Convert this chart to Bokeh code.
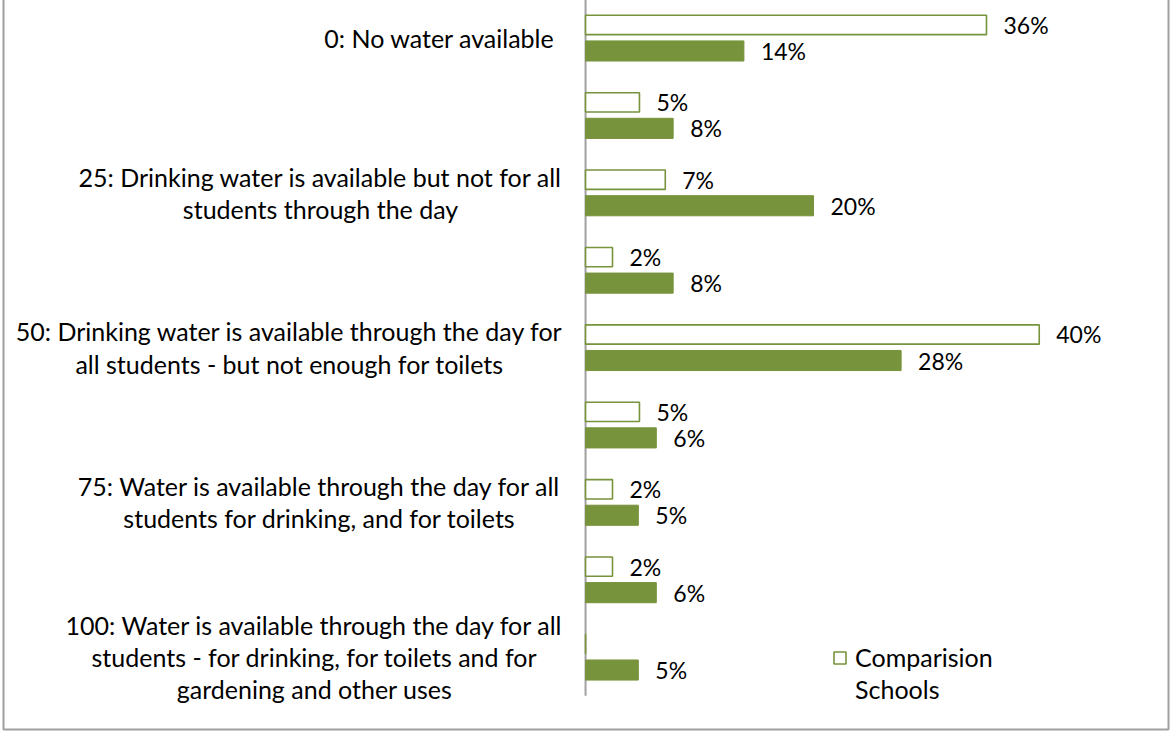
from bokeh.plotting import figure
from bokeh.models import ColumnDataSource, Range1d, FactorRange, Legend, LegendItem
from bokeh.transform import dodge
from bokeh.core.properties import value
from bokeh.embed import file_html
from bokeh.resources import INLINE

# ---- data ----
categories = ["0", "12.5", "25", "37.5", "50", "62.5", "75", "87.5", "100"]
category_labels = [
    "0: No water available",
    "",
    "25: Drinking water is available but not for all\nstudents through the day",
    "",
    "50: Drinking water is available through the day for\nall students - but not enough for toilets",
    "",
    "75: Water is available through the day for all\nstudents for drinking, and for toilets",
    "",
    "100: Water is available through the day for all\nstudents - for drinking, for toilets and for\ngardening and other uses",
]
comparison_schools = [35.7, 4.8, 7.1, 2.4, 40.4, 4.8, 2.4, 2.4, 0.0]
project_schools = [14.1, 7.8, 20.3, 7.8, 28.1, 6.3, 4.7, 6.3, 4.7]
legend_lines = ["Comparision", "Schools"]

# ---- styling ----
GREEN = "#77933c"
GREY = "#a0a0a0"
FONT_NAME = "Lato"
FONT = value(FONT_NAME)
FS = "25px"
FS_VAL = "23px"
label_center_offsets = [-146, 0, -265, 0, -296, 0, -266, 0, -271]

p = figure(
    width=1169, height=768,
    x_range=Range1d(-51.83, 51.91),
    y_range=FactorRange(factors=list(reversed(categories)),
                        range_padding=0.4365, range_padding_units="absolute"),
    x_axis_type=None, y_axis_type=None,
    output_backend="svg", toolbar_location=None,
    min_border_left=2, min_border_right=2, min_border_top=2, min_border_bottom=2,
    margin=(-37, 0, -2, 1),
)
p.outline_line_color = GREY
p.outline_line_width = 2
p.background_fill_color = "white"
p.border_fill_color = "white"

# axis line at 0
p.segment(x0=[0], y0=[0], x1=[0], y1=[len(categories)], line_color=GREY, line_width=2)

comp_src = ColumnDataSource(dict(cat=categories, val=comparison_schools))
proj_src = ColumnDataSource(dict(cat=categories, val=project_schools))

comp_r = p.hbar(y=dodge("cat", 0.168, range=p.y_range), left=0, right="val", height=0.25,
                source=comp_src, fill_color="white", line_color=GREEN, line_width=1.6)
proj_r = p.hbar(y=dodge("cat", -0.168, range=p.y_range), left=0, right="val", height=0.26,
                source=proj_src, fill_color=GREEN, line_color=GREEN, line_width=1)

# value labels
def lbl_src(vals):
    cats = [c for c, v in zip(categories, vals) if v > 0]
    vv = [v for v in vals if v > 0]
    return ColumnDataSource(dict(cat=cats, val=vv, txt=[f"{round(v)}%" for v in vv]))

p.text(x="val", y=dodge("cat", 0.168, range=p.y_range), text="txt", source=lbl_src(comparison_schools),
       x_offset=17, text_align="left", text_baseline="middle",
       text_font=FONT, text_font_size=FS_VAL, text_color="black")
p.text(x="val", y=dodge("cat", -0.168, range=p.y_range), text="txt", source=lbl_src(project_schools),
       x_offset=17, text_align="left", text_baseline="middle",
       text_font=FONT, text_font_size=FS_VAL, text_color="black")

# category labels
cat_src = ColumnDataSource(dict(cat=categories, txt=category_labels, off=label_center_offsets,
                                x=[0] * len(categories)))
p.text(x="x", y="cat", text="txt", x_offset="off", source=cat_src,
       text_align="center", text_baseline="middle",
       text_font=FONT, text_font_size=FS, text_line_height=1.074, text_color="black")

legend = Legend(items=[LegendItem(label=legend_lines[0], renderers=[comp_r]),
                       LegendItem(label=legend_lines[1], renderers=[])],
                location=(829, 25))
legend.border_line_color = None
legend.background_fill_alpha = 0
legend.padding = 0
legend.margin = 0
legend.spacing = 2
legend.glyph_width = 15
legend.glyph_height = 15
legend.label_standoff = 8
legend.label_text_font = FONT_NAME
legend.label_text_font_size = FS
legend.label_text_color = "black"
p.add_layout(legend)

open("out.html", "w").write(file_html(p, INLINE))
